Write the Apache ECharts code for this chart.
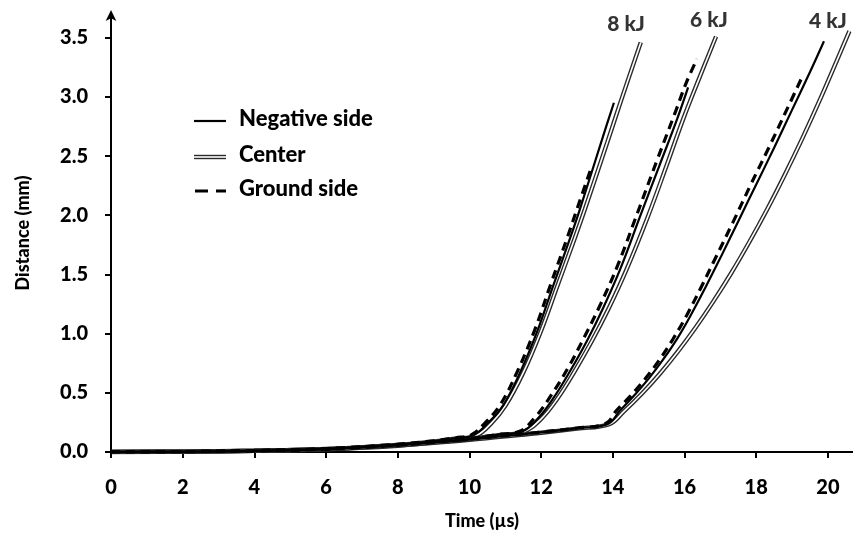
<!DOCTYPE html>
<html>
<head>
<meta charset="utf-8">
<title>Distance vs time</title>
<script src="https://cdn.jsdelivr.net/npm/echarts@6/dist/echarts.min.js"></script>
<style>
  html, body { margin: 0; padding: 0; background: #fff; }
  #chart { width: 853px; height: 535px; }
</style>
</head>
<body>
<div id="chart"></div>
<script>
// Tick values
const timeTicks = [0, 2, 4, 6, 8, 10, 12, 14, 16, 18, 20];
const distTicks = [0, 0.5, 1.0, 1.5, 2.0, 2.5, 3.0, 3.5];

// [time (µs), distance (mm)] for each energy and measuring position
const negative8 = [[0,0],[2,0.003],[4,0.01],[6,0.026],[8,0.062],[9,0.09],[9.6,0.115],[10.1,0.14],[10.5,0.24],[10.93,0.39],[11.41,0.67],[11.88,1.01],[12.33,1.4],[12.8,1.8],[13.08,2.05],[13.72,2.66],[14.03,2.95]];
const center8   = [[0,0],[2,0.003],[4,0.01],[6,0.025],[8,0.06],[9,0.088],[9.6,0.112],[10.18,0.138],[10.6,0.24],[11.0,0.39],[11.5,0.67],[11.98,1.01],[12.45,1.4],[12.93,1.8],[13.22,2.05],[13.85,2.62],[14.22,2.96],[14.78,3.46]];
const ground8   = [[0,0],[2,0.003],[4,0.011],[6,0.028],[8,0.066],[9,0.095],[9.6,0.12],[10.05,0.145],[10.45,0.25],[10.88,0.41],[11.35,0.69],[11.82,1.03],[12.27,1.42],[12.74,1.82],[13.02,2.07],[13.42,2.42]];

const negative6 = [[0,0],[2,0.003],[4,0.01],[6,0.025],[8,0.058],[9,0.083],[10,0.112],[10.8,0.145],[11.45,0.17],[11.9,0.28],[12.33,0.45],[12.8,0.68],[13.28,0.94],[13.72,1.21],[14.2,1.54],[14.76,1.99],[15.3,2.42],[15.79,2.81],[16.1,3.08]];
const center6   = [[0,0],[2,0.003],[4,0.01],[6,0.024],[8,0.056],[9,0.081],[10,0.11],[10.8,0.142],[11.5,0.17],[12.0,0.28],[12.45,0.45],[12.93,0.68],[13.42,0.94],[13.88,1.21],[14.38,1.54],[14.98,1.99],[15.5,2.42],[15.96,2.81],[16.4,3.15],[16.88,3.51]];
const ground6   = [[0,0],[2,0.003],[4,0.011],[6,0.026],[8,0.06],[9,0.086],[10,0.115],[10.8,0.148],[11.4,0.175],[11.85,0.3],[12.28,0.48],[12.75,0.71],[13.22,0.98],[13.66,1.25],[14.14,1.58],[14.7,2.03],[15.24,2.47],[15.73,2.86],[16.05,3.12],[16.35,3.32]];

const negative4 = [[0,0],[2,0.003],[4,0.01],[6,0.024],[8,0.055],[9,0.08],[10,0.105],[11,0.135],[12,0.165],[13,0.2],[13.85,0.235],[14.2,0.35],[14.6,0.48],[15.0,0.62],[15.4,0.78],[15.8,0.96],[16.2,1.17],[16.6,1.4],[17.0,1.64],[17.5,1.95],[18.0,2.26],[18.5,2.57],[19.0,2.89],[19.5,3.21],[19.89,3.47]];
const center4   = [[0,0],[2,0.003],[4,0.01],[6,0.023],[8,0.053],[9,0.078],[10,0.103],[11,0.133],[12,0.163],[13,0.198],[13.9,0.235],[14.3,0.341],[14.8,0.49],[15.3,0.657],[15.8,0.843],[16.3,1.047],[16.8,1.27],[17.3,1.51],[17.8,1.77],[18.3,2.047],[18.8,2.344],[19.3,2.658],[19.8,2.991],[20.3,3.342],[20.6,3.555]];
const ground4   = [[0,0],[2,0.003],[4,0.011],[6,0.025],[8,0.057],[9,0.082],[10,0.108],[11,0.138],[12,0.168],[13,0.203],[13.8,0.24],[14.1,0.35],[14.48,0.47],[14.88,0.61],[15.28,0.77],[15.67,0.95],[16.07,1.16],[16.46,1.39],[16.85,1.63],[17.35,1.94],[17.85,2.26],[18.35,2.57],[18.85,2.89],[19.3,3.18]];

// Energy annotations placed in data coordinates
const energyNames = ['8 kJ', '6 kJ', '4 kJ'];
const energyLabelPos = [[14.37, 3.61], [16.68, 3.65], [20.0, 3.64]];

const FONT = 'Lato, "Open Sans", sans-serif';
const INK = '#000';

const base = {
  type: 'line',
  showSymbol: false,
  symbol: 'none',
  smooth: 0.4,
  silent: true,
  animation: false
};

function centerPair(data) {
  return [
    Object.assign({}, base, { data, z: 2, lineStyle: { color: '#2a2a2a', width: 4.4 } }),
    Object.assign({}, base, { data, z: 3, lineStyle: { color: '#ffffff', width: 1.6 } })
  ];
}
function solid(data) {
  return Object.assign({}, base, { data, z: 4, lineStyle: { color: '#000', width: 2.2 } });
}
function dashed(data) {
  return Object.assign({}, base, { data, z: 5, lineStyle: { color: '#000', width: 3.2, type: [9, 6] } });
}

const series = [
  ...centerPair(center8), ...centerPair(center6), ...centerPair(center4),
  solid(negative8), solid(negative6), solid(negative4),
  dashed(ground8), dashed(ground6), dashed(ground4),
  {
    type: 'scatter',
    symbolSize: 0,
    silent: true,
    animation: false,
    data: energyLabelPos.map((p, i) => ({ value: p, name: energyNames[i] })),
    label: {
      show: true,
      position: 'inside',
      formatter: p => p.name,
      color: INK,
      fontFamily: FONT,
      fontWeight: 900,
      fontSize: 21
    }
  }
];

// Legend samples
const legendY = [121, 157, 191];
const legendText = ['Negative side', 'Center', 'Ground side'];
const graphic = [
  { type: 'line', shape: { x1: 194, y1: legendY[0], x2: 226, y2: legendY[0] }, style: { stroke: '#000', lineWidth: 2.2 } },
  { type: 'line', shape: { x1: 194, y1: legendY[1], x2: 226, y2: legendY[1] }, style: { stroke: '#2a2a2a', lineWidth: 4.4 } },
  { type: 'line', shape: { x1: 194, y1: legendY[1], x2: 226, y2: legendY[1] }, style: { stroke: '#fff', lineWidth: 1.6 } },
  { type: 'line', shape: { x1: 195, y1: legendY[2], x2: 226, y2: legendY[2] }, style: { stroke: '#000', lineWidth: 3.2, lineDash: [13, 8] } }
].concat(legendText.map((t, i) => ({
  type: 'text',
  left: 239,
  top: legendY[i] - 13,
  style: { text: t, fill: INK, font: '900 22px ' + FONT }
})));

const chart = echarts.init(document.getElementById('chart'), null, { renderer: 'canvas' });
chart.setOption({
  backgroundColor: '#ffffff',
  animation: false,
  grid: { left: 111, right: 0, top: 14, bottom: 82, containLabel: false },
  xAxis: {
    type: 'value',
    min: 0,
    max: 20.7,
    name: 'Time (µs)',
    nameLocation: 'middle',
    nameGap: 60,
    nameTextStyle: { color: INK, fontFamily: FONT, fontWeight: 900, fontSize: 18 },
    axisLine: { show: true, onZero: false, lineStyle: { color: '#000', width: 2 } },
    axisTick: { show: true, inside: false, length: 6, lineStyle: { color: '#000', width: 2 }, customValues: timeTicks },
    axisLabel: { customValues: timeTicks, margin: 26, color: INK, fontFamily: FONT, fontWeight: 900, fontSize: 20 },
    splitLine: { show: false }
  },
  yAxis: {
    type: 'value',
    min: 0,
    max: 3.7,
    name: 'Distance (mm)',
    nameLocation: 'middle',
    nameGap: 79,
    nameRotate: 90,
    nameTextStyle: { color: INK, fontFamily: FONT, fontWeight: 900, fontSize: 18 },
    axisLine: { show: true, onZero: false, symbol: ['none', 'arrow'], symbolSize: [8, 11], symbolOffset: [0, 4], lineStyle: { color: '#000', width: 2 } },
    axisTick: { show: true, inside: false, length: 6, lineStyle: { color: '#000', width: 2 }, customValues: distTicks },
    axisLabel: { customValues: distTicks, margin: 23, color: INK, fontFamily: FONT, fontWeight: 900, fontSize: 20, formatter: v => v.toFixed(1) },
    splitLine: { show: false }
  },
  series,
  graphic
});
</script>
</body>
</html>
